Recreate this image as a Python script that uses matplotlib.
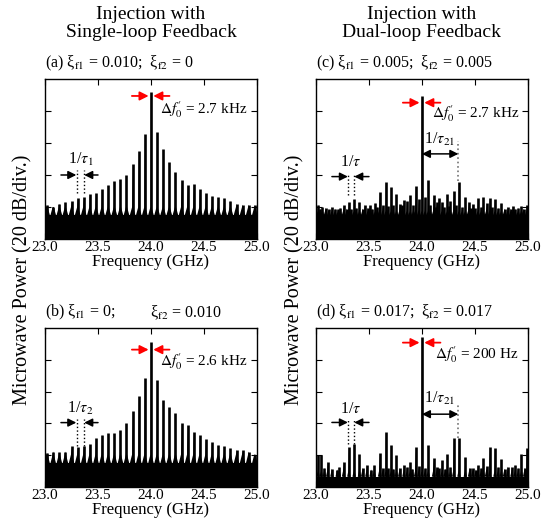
import matplotlib.pyplot as plt
import numpy as np

plt.rcParams['font.family'] = ['Liberation Serif', 'DejaVu Serif']
plt.rcParams['mathtext.fontset'] = 'stix'

# comb frequencies (GHz) shared by the single-loop panels
comb_f = [23.019, 23.077, 23.135, 23.192, 23.250, 23.308, 23.365, 23.423, 23.481,
          23.538, 23.596, 23.654, 23.712, 23.769, 23.827, 23.885, 23.942, 24.000,
          24.058, 24.115, 24.173, 24.231, 24.289, 24.346, 24.404, 24.462, 24.519,
          24.577, 24.635, 24.692, 24.750, 24.808, 24.865, 24.923, 24.981]

# peak heights (% of the 5-division scale)
heights_a = [21, 20, 22, 23, 23.5, 25.5, 26, 28, 29, 31, 34, 36, 37.6, 40, 47, 55, 65.5, 92,
             67, 56, 48, 42, 37, 34, 34.5, 31, 29, 27, 26, 25.5, 24, 22, 21.4, 21.4, 21]
heights_b = [21.3, 22.3, 21.7, 22.3, 25.5, 25, 25.5, 27.1, 31, 33, 34, 34, 36, 40, 48, 57, 68.3, 91.2,
             67.2, 54.7, 50.5, 46.3, 40, 39, 34.9, 32.8, 30, 28, 26.5, 25.5, 24.4, 23.4, 23, 22.3, 20.3]

freqs_c = [23.02, 23.06, 23.15, 23.26, 23.31, 23.36, 23.41, 23.46, 23.51, 23.56, 23.60, 23.66,
           23.71, 23.76, 23.79, 23.83, 23.86, 23.89, 23.94, 23.97, 24.00, 24.03, 24.06, 24.11,
           24.14, 24.16, 24.19, 24.24, 24.27, 24.30, 24.35, 24.41, 24.44, 24.48, 24.53, 24.58,
           24.61, 24.64, 24.69, 24.75, 24.81, 24.86, 24.91, 24.94, 24.99]
heights_c = [21.5, 20, 20, 21, 22.9, 24.8, 23.3, 21.5, 21, 22.7, 29.6, 35.8,
             32.7, 28.1, 22, 24.4, 23.5, 27.5, 33.1, 25, 89.4, 26, 36.9, 27.5,
             23, 25.5, 23.3, 28.1, 23.5, 30.2, 35.8, 26.4, 23.3, 22, 25.4, 26,
             22.5, 25.4, 24.8, 22.7, 20, 20.6, 19.5, 20.6, 21.2]
# small floor spikes in (c)
minor_c_f = [23.04, 23.09, 23.12, 23.18, 23.21, 23.23, 23.29, 23.33, 23.38, 23.44, 23.49,
             23.53, 23.58, 23.63, 23.68, 23.73, 23.81, 23.92, 24.08, 24.13, 24.21, 24.26,
             24.32, 24.38, 24.46, 24.50, 24.56, 24.66, 24.72, 24.78, 24.84, 24.88, 24.96]
minor_c_h = [19, 19.5, 18.5, 19, 18.5, 19.5, 19, 19, 19.5, 19, 19.5,
             19, 20, 21, 20.5, 21, 21, 21, 21.5, 20, 20, 20.5,
             21, 20, 19.5, 19.5, 20, 20, 19.5, 19, 19, 19, 19]

freqs_d = [23.02, 23.05, 23.08, 23.11, 23.15, 23.20, 23.22, 23.26, 23.31, 23.36, 23.41, 23.44,
           23.48, 23.52, 23.55, 23.60, 23.63, 23.66, 23.68, 23.71, 23.73, 23.76, 23.79, 23.83,
           23.86, 23.89, 23.91, 23.94, 23.97, 24.00, 24.03, 24.06, 24.11, 24.14, 24.16, 24.19,
           24.22, 24.24, 24.27, 24.30, 24.35, 24.41, 24.45, 24.48, 24.51, 24.53, 24.56, 24.58,
           24.61, 24.64, 24.69, 24.72, 24.75, 24.78, 24.81, 24.85, 24.88, 24.91, 24.94, 24.97, 24.99]
heights_d = [20.1, 20.1, 12, 16, 11.5, 11, 12.5, 16, 25.4, 26.8, 20.5, 12,
             13.8, 11, 13.8, 21.1, 12, 34.4, 12, 26.4, 11.5, 20.1, 12, 13.8,
             12.5, 16, 11.5, 25.4, 13, 94.6, 12, 26.4, 18, 12.5, 12, 16.9,
             11.5, 20.5, 12.5, 31, 31, 19, 12, 11.7, 11, 13.8, 12, 18.4,
             13, 25.4, 24.7, 12.5, 17.6, 11.5, 12.8, 12.5, 13.8, 12, 20.5, 12, 24.5]

panels = [
    dict(pos=[0.083, 0.5465, 0.39, 0.3036], f=comb_f, h=heights_a, floor=15, rip=5, hw=0.026,
         lab1='(a) ξ$_{\\rm f1}$ = 0.010;  ξ$_{\\rm f2}$ = 0', lab2=None,
         red_y=89.4, df=r"$\Delta f_0^{\prime}$ = 2.7 kHz", df_xy=(24.09, 80.7),
         tau=r'1/$\tau_1$', tau_y=49.5, arr_y=40, dots=(23.30, 23.365), dot_y=(43, 28.7),
         t21=None),
    dict(pos=[0.083, 0.0759, 0.39, 0.3017], f=comb_f, h=heights_b, floor=15, rip=5.5, hw=0.026,
         lab1='(b) ξ$_{\\rm f1}$ = 0;', lab2='ξ$_{\\rm f2}$ = 0.010',
         red_y=86.4, df=r"$\Delta f_0^{\prime}$ = 2.6 kHz", df_xy=(24.09, 78.7),
         tau=r'1/$\tau_2$', tau_y=49.5, arr_y=40.5, dots=(23.30, 23.365), dot_y=(43, 25.5),
         t21=None),
    dict(pos=[0.582, 0.5465, 0.39, 0.3036], f=freqs_c + minor_c_f, h=heights_c + minor_c_h,
         floor=15, rip=2.5, hw=0.016,
         lab1='(c) ξ$_{\\rm f1}$ = 0.005;  ξ$_{\\rm f2}$ = 0.005', lab2=None,
         red_y=85.2, df=r"$\Delta f_0^{\prime}$ = 2.7 kHz", df_xy=(24.1, 78.6),
         tau=r'1/$\tau$', tau_y=48.4, arr_y=39, dots=(23.306, 23.356), dot_y=(41, 27.7),
         t21=(62, 53.2, 61, 36)),
    dict(pos=[0.582, 0.0759, 0.39, 0.3017], f=freqs_d, h=heights_d, floor=6.5, rip=3.5, hw=0.016,
         lab1='(d) ξ$_{\\rm f1}$ = 0.017;  ξ$_{\\rm f2}$ = 0.017', lab2=None,
         red_y=90.8, df=r"$\Delta f_0^{\prime}$ = 200 Hz", df_xy=(24.12, 83),
         tau=r'1/$\tau$', tau_y=49, arr_y=40.6, dots=(23.306, 23.356), dot_y=(43, 27),
         t21=(55.9, 45.8, 52.7, 31)),
]

fig = plt.figure(figsize=(5.43, 5.27), dpi=100)

for p in panels:
    ax = fig.add_axes(p['pos'])
    fl = p['floor']
    hw = p['hw']
    ax.fill_between([23, 25], 0, fl, color='k', lw=0)
    for f, h in zip(p['f'], p['h']):
        ax.fill([f - hw, f - 0.005, f, f + 0.005, f + hw],
                [fl, fl + p['rip'], h, fl + p['rip'], fl], color='k', lw=0)
        ax.vlines(f, fl, h, color='k', lw=1.9)

    ax.set_xlim(23, 25)
    ax.set_ylim(0, 100)
    ax.set_xticks([23.0, 23.5, 24.0, 24.5, 25.0])
    ax.set_xticklabels(['23.0', '23.5', '24.0', '24.5', '25.0'])
    ax.set_yticks([20, 40, 60, 80])
    ax.set_yticklabels([])
    ax.tick_params(direction='in', top=True, right=True, length=4, width=0.8,
                   labelsize=11, pad=1.5)
    for s in ax.spines.values():
        s.set_linewidth(1.0)
    ax.set_xlabel('Frequency (GHz)', fontsize=12, labelpad=0)

    # panel label
    ax.text(0, 1.035, p['lab1'], transform=ax.transAxes, fontsize=11.5, va='bottom', ha='left')
    if p['lab2']:
        ax.text(0.495, 1.035, p['lab2'], transform=ax.transAxes, fontsize=11.5, va='bottom', ha='left')

    # red arrows at the main peak
    ry = p['red_y']
    arr_red = dict(arrowstyle='-|>', color='red', lw=1.3, mutation_scale=13,
                   shrinkA=0, shrinkB=0)
    ax.annotate('', xy=(23.978, ry), xytext=(23.82, ry), arrowprops=arr_red)
    ax.annotate('', xy=(24.022, ry), xytext=(24.175, ry), arrowprops=arr_red)
    ax.text(p['df_xy'][0], p['df_xy'][1], p['df'], fontsize=11, va='center', ha='left')

    # comb spacing marker
    d1, d2 = p['dots']
    arr_blk = dict(arrowstyle='-|>', color='k', lw=1.1, mutation_scale=12,
                   shrinkA=0, shrinkB=0)
    ax.annotate('', xy=(d1 - 0.005, p['arr_y']), xytext=(23.15, p['arr_y']), arrowprops=arr_blk)
    ax.annotate('', xy=(d2 + 0.005, p['arr_y']), xytext=(23.5, p['arr_y']), arrowprops=arr_blk)
    ax.vlines([d1, d2], p['dot_y'][1], p['dot_y'][0], colors='k', linestyles=':', lw=1.0)
    ax.text((d1 + d2) / 2, p['tau_y'], p['tau'], fontsize=11.5, ha='center', va='center')

    if p['t21']:
        ty, ay, dtop, dbot = p['t21']
        ax.text(24.165, ty, r'1/$\tau_{21}$', fontsize=11.5, ha='center', va='center')
        ax.annotate('', xy=(24.0, ay), xytext=(24.344, ay),
                    arrowprops=dict(arrowstyle='<|-|>', color='k', lw=1.1, mutation_scale=12,
                                    shrinkA=0, shrinkB=0))
        ax.vlines(24.344, dbot, dtop, colors='0.45', linestyles=':', lw=1.2)

# column titles and y labels
fig.text(0.278, 0.955, 'Injection with\nSingle-loop Feedback', fontsize=14,
         ha='center', va='center', linespacing=1.1)
fig.text(0.777, 0.955, 'Injection with\nDual-loop Feedback', fontsize=14,
         ha='center', va='center', linespacing=1.1)
fig.text(0.043, 0.469, 'Microwave Power (20 dB/div.)', fontsize=14.5, rotation=90,
         ha='center', va='center')
fig.text(0.543, 0.469, 'Microwave Power (20 dB/div.)', fontsize=14.5, rotation=90,
         ha='center', va='center')

fig.savefig('out.png', dpi=100)
